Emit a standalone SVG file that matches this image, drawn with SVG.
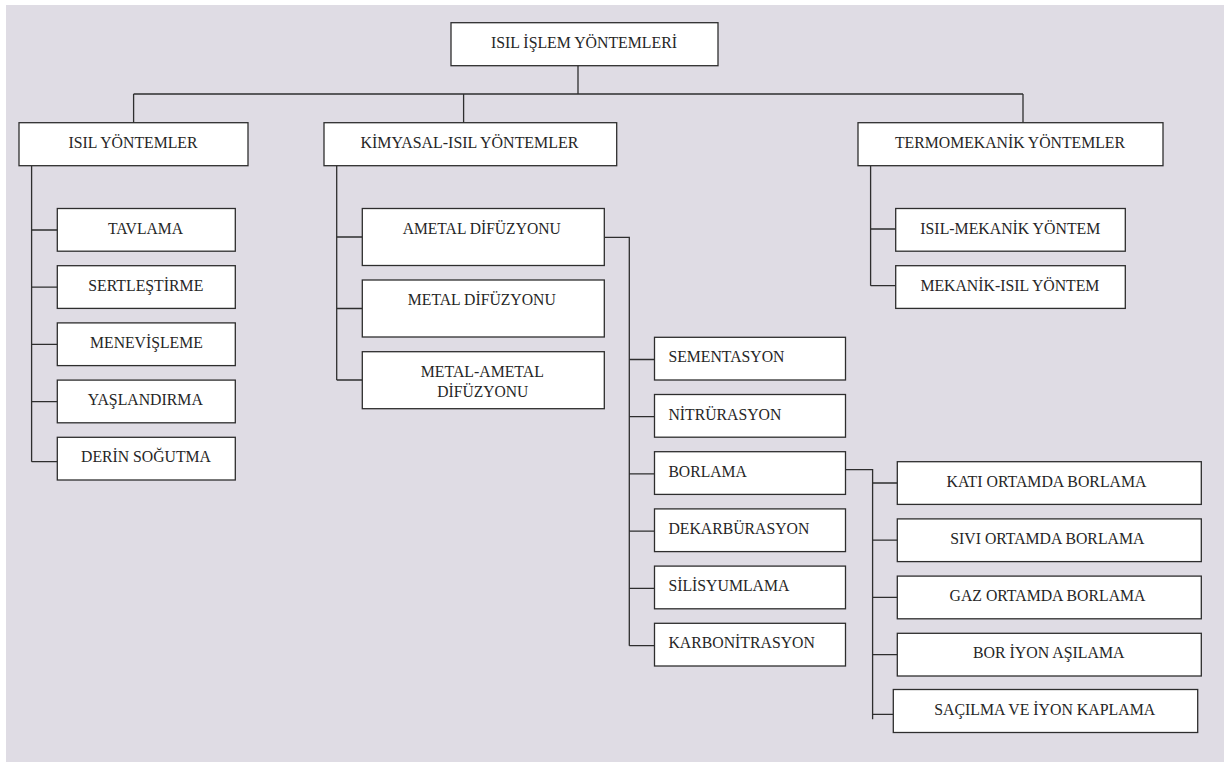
<svg xmlns="http://www.w3.org/2000/svg" width="1224" height="762" viewBox="0 0 1224 762">
<style>
.bx{fill:#ffffff;stroke:#2e2e2e;stroke-width:1.3}
.ln{fill:none;stroke:#2e2e2e;stroke-width:1.3}
text{font-family:'Liberation Serif','Times New Roman',serif;font-size:17.5px;fill:#262626}
.c{text-anchor:middle}
.s{text-anchor:start}
</style>
<rect x="0" y="0" width="1224" height="762" fill="#ffffff"/>
<rect x="6" y="5" width="1218" height="757" fill="#dfdce4"/>
<g id="connectors">
<path class="ln" d="M578 66V94M133.6 94H1023M133.6 94V123M463.6 94V123M1023 94V123"/>
<path class="ln" d="M31.6 166V461.7M31.6 230H57.3M31.6 287.2H57.3M31.6 344.4H57.3M31.6 401.6H57.3M31.6 461.7H57.3"/>
<path class="ln" d="M336.7 166V380M336.7 237H362.3M336.7 308.5H362.3M336.7 380H362.3"/>
<path class="ln" d="M604.3 237.3H629.3V645.7M629.3 359.5H654.5M629.3 416.7H654.5M629.3 473.9H654.5M629.3 531.1H654.5M629.3 588.3H654.5M629.3 645.7H654.5"/>
<path class="ln" d="M845.5 469.7H872.6V719.3M872.6 483H897.3M872.6 540.2H897.3M872.6 597.4H897.3M872.6 654.6H897.3M872.6 714.3H893.3"/>
<path class="ln" d="M870.6 166V285.7M870.6 229H895.7M870.6 285.7H895.7"/>
</g>
<g id="n-root"><rect class="bx" x="451" y="22.7" width="267" height="43"/><text class="c" x="584" y="47.7" textLength="186" lengthAdjust="spacingAndGlyphs">ISIL İŞLEM YÖNTEMLERİ</text></g>
<g id="n-isil"><rect class="bx" x="19" y="122.7" width="229" height="43"/><text class="c" x="133" y="147.7" textLength="129" lengthAdjust="spacingAndGlyphs">ISIL YÖNTEMLER</text></g>
<g id="n-kimyasal"><rect class="bx" x="324" y="122.7" width="292.7" height="43"/><text class="c" x="469.4" y="147.7" textLength="218" lengthAdjust="spacingAndGlyphs">KİMYASAL-ISIL YÖNTEMLER</text></g>
<g id="n-termo"><rect class="bx" x="858" y="122.7" width="305" height="43"/><text class="c" x="1010" y="147.7" textLength="230" lengthAdjust="spacingAndGlyphs">TERMOMEKANİK YÖNTEMLER</text></g>

<g id="n-tavlama"><rect class="bx" x="57.3" y="208.5" width="178" height="42.7"/><text class="c" x="145.5" y="233.5" textLength="75" lengthAdjust="spacingAndGlyphs">TAVLAMA</text></g>
<g id="n-sertlestirme"><rect class="bx" x="57.3" y="265.7" width="178" height="42.7"/><text class="c" x="145.8" y="290.7" textLength="115" lengthAdjust="spacingAndGlyphs">SERTLEŞTİRME</text></g>
<g id="n-menevisleme"><rect class="bx" x="57.3" y="322.9" width="178" height="42.7"/><text class="c" x="146.4" y="347.9" textLength="112.7" lengthAdjust="spacingAndGlyphs">MENEVİŞLEME</text></g>
<g id="n-yaslandirma"><rect class="bx" x="57.3" y="380.1" width="178" height="42.7"/><text class="c" x="145.3" y="405.1" textLength="115" lengthAdjust="spacingAndGlyphs">YAŞLANDIRMA</text></g>
<g id="n-derin"><rect class="bx" x="57.3" y="437.3" width="178" height="42.7"/><text class="c" x="146" y="462.3" textLength="130" lengthAdjust="spacingAndGlyphs">DERİN SOĞUTMA</text></g>

<g id="n-ametal"><rect class="bx" x="362.3" y="208.5" width="242" height="57"/><text class="c" x="481.7" y="233.5" textLength="158" lengthAdjust="spacingAndGlyphs">AMETAL DİFÜZYONU</text></g>
<g id="n-metal"><rect class="bx" x="362.3" y="280" width="242" height="57"/><text class="c" x="481.8" y="305" textLength="148" lengthAdjust="spacingAndGlyphs">METAL DİFÜZYONU</text></g>
<g id="n-metalametal"><rect class="bx" x="362.3" y="351.7" width="242" height="57"/><text class="c" x="482.3" y="376.7" textLength="123" lengthAdjust="spacingAndGlyphs">METAL-AMETAL</text><text class="c" x="482.8" y="396.7" textLength="91" lengthAdjust="spacingAndGlyphs">DİFÜZYONU</text></g>

<g id="n-sementasyon"><rect class="bx" x="654.5" y="337.3" width="191" height="42.7"/><text class="s" x="668.4" y="362.3" textLength="116" lengthAdjust="spacingAndGlyphs">SEMENTASYON</text></g>
<g id="n-nitrurasyon"><rect class="bx" x="654.5" y="394.5" width="191" height="42.7"/><text class="s" x="668.4" y="419.5" textLength="113" lengthAdjust="spacingAndGlyphs">NİTRÜRASYON</text></g>
<g id="n-borlama"><rect class="bx" x="654.5" y="451.7" width="191" height="42.7"/><text class="s" x="668.4" y="476.7" textLength="78.4" lengthAdjust="spacingAndGlyphs">BORLAMA</text></g>
<g id="n-dekarburasyon"><rect class="bx" x="654.5" y="508.9" width="191" height="42.7"/><text class="s" x="668.4" y="533.9" textLength="141" lengthAdjust="spacingAndGlyphs">DEKARBÜRASYON</text></g>
<g id="n-silisyumlama"><rect class="bx" x="654.5" y="566.1" width="191" height="42.7"/><text class="s" x="668.4" y="591.1" textLength="121" lengthAdjust="spacingAndGlyphs">SİLİSYUMLAMA</text></g>
<g id="n-karbonitrasyon"><rect class="bx" x="654.5" y="623.3" width="191" height="42.7"/><text class="s" x="668.4" y="648.3" textLength="146.5" lengthAdjust="spacingAndGlyphs">KARBONİTRASYON</text></g>

<g id="n-kati"><rect class="bx" x="897.3" y="461.7" width="304" height="42.7"/><text class="c" x="1046.5" y="486.7" textLength="200" lengthAdjust="spacingAndGlyphs">KATI ORTAMDA BORLAMA</text></g>
<g id="n-sivi"><rect class="bx" x="897.3" y="518.9" width="304" height="42.7"/><text class="c" x="1047.3" y="543.9" textLength="194" lengthAdjust="spacingAndGlyphs">SIVI ORTAMDA BORLAMA</text></g>
<g id="n-gaz"><rect class="bx" x="897.3" y="576.1" width="304" height="42.7"/><text class="c" x="1047.5" y="601.1" textLength="196" lengthAdjust="spacingAndGlyphs">GAZ ORTAMDA BORLAMA</text></g>
<g id="n-boriyon"><rect class="bx" x="897.3" y="633.3" width="304" height="42.7"/><text class="c" x="1048.7" y="658.3" textLength="151.6" lengthAdjust="spacingAndGlyphs">BOR İYON AŞILAMA</text></g>
<g id="n-sacilma"><rect class="bx" x="893.3" y="689.5" width="304.4" height="43"/><text class="c" x="1044.7" y="714.5" textLength="221" lengthAdjust="spacingAndGlyphs">SAÇILMA VE İYON KAPLAMA</text></g>

<g id="n-isilmekanik"><rect class="bx" x="895.7" y="208.5" width="229.6" height="42.7"/><text class="c" x="1010.3" y="233.5" textLength="180" lengthAdjust="spacingAndGlyphs">ISIL-MEKANİK YÖNTEM</text></g>
<g id="n-mekanikisil"><rect class="bx" x="895.7" y="265.7" width="229.6" height="42.7"/><text class="c" x="1009.9" y="290.7" textLength="179" lengthAdjust="spacingAndGlyphs">MEKANİK-ISIL YÖNTEM</text></g>
</svg>
